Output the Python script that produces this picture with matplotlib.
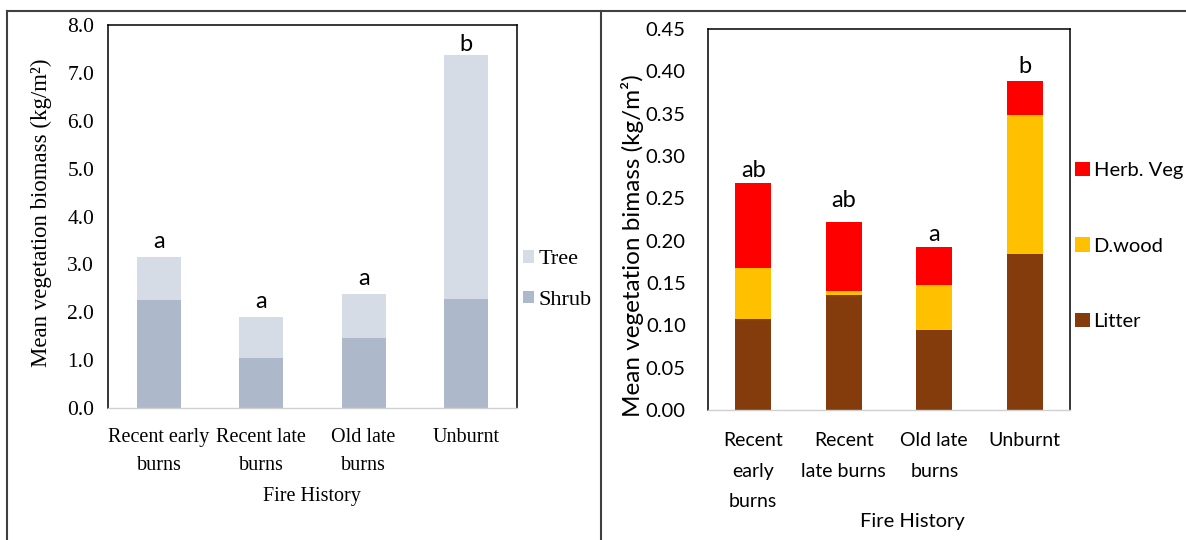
import matplotlib
matplotlib.use("Agg")
import matplotlib.pyplot as plt
import numpy as np
from matplotlib.patches import Patch
from matplotlib.lines import Line2D

# ---------------- data ----------------
left_categories = ["Recent early\nburns", "Recent late\nburns", "Old late\nburns", "Unburnt"]
shrub = [2.25, 1.05, 1.47, 2.28]
tree = [0.91, 0.86, 0.92, 5.10]
left_letters = ["a", "a", "a", "b"]
left_yticks = [0.0, 1.0, 2.0, 3.0, 4.0, 5.0, 6.0, 7.0, 8.0]

right_categories = ["Recent\nearly\nburns", "Recent\nlate burns", "Old late\nburns", "Unburnt"]
litter = [0.108, 0.136, 0.095, 0.184]
dwood = [0.060, 0.004, 0.053, 0.165]
herb = [0.100, 0.082, 0.044, 0.039]
right_letters = ["ab", "ab", "a", "b"]
right_yticks = [0.00, 0.05, 0.10, 0.15, 0.20, 0.25, 0.30, 0.35, 0.40, 0.45]

# ---------------- layout / style ----------------
W, H = 1186, 540
DPI = 100
fig = plt.figure(figsize=(W / DPI, H / DPI), dpi=DPI)
fig.patch.set_facecolor("white")

def fx(px):
    return px / W

def fy(py):
    return 1 - py / H

SERIF = "Liberation Serif"
SANS = "Lato"

c_tree, c_shrub = "#d6dce5", "#adb9ca"
c_herb, c_dwood, c_litter = "#ff0000", "#ffc000", "#843c0c"

left_letter_gap = [9, 9, 9, 4]     # px gap between bar top and letter baseline
right_letter_gap = [6, 15, 6, 8]

def style_axes(ax):
    for s in ("left", "top", "right"):
        ax.spines[s].set_color("black")
        ax.spines[s].set_linewidth(1.1)
    ax.spines["bottom"].set_color("#d0d0d0")
    ax.spines["bottom"].set_linewidth(1.0)
    ax.tick_params(length=0)

# ---------------- left chart ----------------
axL = fig.add_axes([fx(108), fy(408), fx(517 - 108), (408 - 25) / H])
xl = np.arange(len(left_categories))
axL.bar(xl, shrub, width=0.43, color=c_shrub, label="Shrub")
axL.bar(xl, tree, width=0.43, bottom=shrub, color=c_tree, label="Tree")
axL.set_xlim(-0.5, len(left_categories) - 0.5)
axL.set_ylim(0, 8)
axL.set_yticks(left_yticks)
axL.set_yticklabels([f"{v:.1f}" for v in left_yticks], fontfamily=SERIF, fontsize=15.5)
axL.set_xticks(xl)
axL.set_xticklabels(left_categories, fontfamily=SERIF, fontsize=14.5, linespacing=1.62)
axL.tick_params(axis="x", pad=14.5)
axL.tick_params(axis="y", pad=10)
style_axes(axL)
for i, (s, t, let) in enumerate(zip(shrub, tree, left_letters)):
    axL.annotate(let, (xl[i], s + t), xytext=(0, left_letter_gap[i] * 72 / DPI),
                 textcoords="offset points", ha="center", va="baseline",
                 fontfamily=SANS, fontsize=17)
fig.text(fx(312), fy(497), "Fire History", ha="center", va="center",
         fontfamily=SERIF, fontsize=14.5)
fig.text(fx(41), fy(213), "Mean vegetation biomass (kg/m²)", ha="center", va="center",
         rotation=90, fontfamily=SERIF, fontsize=16.5)
hL = [Patch(facecolor=c_tree, label="Tree"), Patch(facecolor=c_shrub, label="Shrub")]
legL = fig.legend(handles=hL, loc="center left", bbox_to_anchor=(fx(523), fy(280)),
                  frameon=False, prop={"family": SERIF, "size": 16},
                  handlelength=0.5, handleheight=0.5, handletextpad=0.2,
                  labelspacing=0.95, borderpad=0, borderaxespad=0)

# ---------------- right chart ----------------
axR = fig.add_axes([fx(708), fy(410), fx(1070 - 708), (410 - 29) / H])
xr = np.arange(len(right_categories))
b1 = np.array(litter)
b2 = b1 + np.array(dwood)
axR.bar(xr, litter, width=0.4, color=c_litter, label="Litter")
axR.bar(xr, dwood, width=0.4, bottom=b1, color=c_dwood, label="D.wood")
axR.bar(xr, herb, width=0.4, bottom=b2, color=c_herb, label="Herb. Veg")
axR.set_xlim(-0.5, len(right_categories) - 0.5)
axR.set_ylim(0, 0.45)
axR.set_yticks(right_yticks)
axR.set_yticklabels([f"{v:.2f}" for v in right_yticks], fontfamily=SANS, fontsize=14.5)
axR.set_xticks(xr)
axR.set_xticklabels(right_categories, fontfamily=SANS, fontsize=14, linespacing=1.95)
axR.tick_params(axis="x", pad=16)
axR.tick_params(axis="y", pad=16)
style_axes(axR)
totals = b2 + np.array(herb)
for i, let in enumerate(right_letters):
    axR.annotate(let, (xr[i], totals[i]), xytext=(0, right_letter_gap[i] * 72 / DPI),
                 textcoords="offset points", ha="center", va="baseline",
                 fontfamily=SANS, fontsize=17)
fig.text(fx(912), fy(521), "Fire History", ha="center", va="center",
         fontfamily=SANS, fontsize=14.5)
fig.text(fx(632), fy(246), "Mean vegetation bimass (kg/m²)", ha="center", va="center",
         rotation=90, fontfamily=SANS, fontsize=17.5)
hR = [Patch(facecolor=c_herb, label="Herb. Veg"), Patch(facecolor=c_dwood, label="D.wood"),
      Patch(facecolor=c_litter, label="Litter")]
legR = fig.legend(handles=hR, loc="center left", bbox_to_anchor=(fx(1075), fy(246)),
                  frameon=False, prop={"family": SANS, "size": 14.5},
                  handlelength=0.72, handleheight=0.72, handletextpad=0.2,
                  labelspacing=2.9, borderpad=0, borderaxespad=0)

# ---------------- panel borders ----------------
bc = "#404040"
fig.add_artist(Line2D([fx(7), 1.0], [fy(11), fy(11)], color=bc, lw=1.5))
fig.add_artist(Line2D([fx(7), fx(7)], [0, fy(11)], color=bc, lw=1.5))
fig.add_artist(Line2D([fx(601), fx(601)], [0, fy(11)], color=bc, lw=1.5))

fig.savefig("out.png", dpi=DPI, facecolor="white")
